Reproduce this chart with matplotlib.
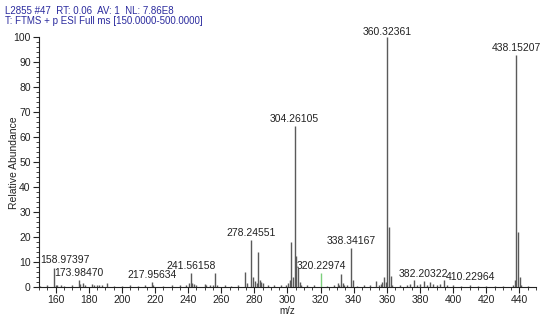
import matplotlib
matplotlib.use("Agg")
import matplotlib.pyplot as plt
from matplotlib.ticker import MultipleLocator

plt.rcParams['font.family'] = ['Liberation Sans', 'DejaVu Sans']

# ---- data ----
header1 = "L2855 #47  RT: 0.06  AV: 1  NL: 7.86E8"
header2 = "T: FTMS + p ESI Full ms [150.0000-500.0000]"

mz = [150.5, 155.0, 158.97397, 160.0, 161.0, 163.0, 165.0, 170.0, 173.98470, 175.0,
      176.5, 178.0, 182.0, 183.0, 185.0, 186.0, 188.0, 191.0, 195.0, 200.0,
      205.0, 210.0, 214.0, 217.95634, 219.0, 225.0, 230.0, 235.0, 239.0, 240.5,
      241.56158, 242.5, 243.5, 245.0, 250.0, 251.0, 253.0, 255.0, 256.3, 257.5,
      262.0, 266.0, 270.0, 274.3, 275.3, 278.24551, 279.25, 280.3, 281.3, 282.3,
      283.3, 284.3, 285.5, 288.0, 292.0, 296.0, 299.0, 300.3, 301.3, 302.3,
      303.3, 304.26105, 305.3, 306.3, 307.3, 308.3, 312.0, 316.0, 324.0, 328.0,
      330.3, 331.3, 332.3, 333.3, 334.3, 336.0, 338.34167, 339.35, 342.0, 346.0,
      350.0, 353.3, 355.0, 356.3, 357.3, 358.3, 359.3, 360.32361, 361.33, 362.33,
      363.3, 368.0, 372.0, 374.0, 376.2, 378.0, 380.0, 382.20322, 384.0, 386.2,
      388.0, 390.0, 392.0, 394.2, 396.0, 400.0, 405.0, 410.22964, 415.0, 420.0,
      425.0, 430.0, 436.0, 437.2, 438.15207, 439.16, 440.16, 441.2, 445.0]
intensity = [0.5, 0.8, 7.8, 1.0, 0.6, 0.6, 0.5, 0.6, 2.8, 1.2,
             1.5, 0.8, 1.3, 1.0, 1.0, 0.8, 0.7, 1.5, 0.5, 0.5,
             0.6, 0.5, 0.6, 2.0, 0.8, 0.5, 0.6, 0.6, 1.0, 1.5,
             5.7, 1.8, 1.2, 0.6, 1.2, 0.8, 0.8, 1.0, 5.5, 0.8,
             0.6, 0.5, 0.6, 6.0, 1.5, 19.0, 4.0, 2.5, 1.5, 14.0,
             3.0, 2.0, 1.5, 1.0, 0.6, 0.6, 1.0, 1.5, 3.0, 18.0,
             4.0, 64.5, 12.5, 7.5, 2.0, 1.0, 0.6, 0.6, 0.5, 0.8,
             1.5, 1.0, 5.2, 1.5, 1.0, 0.6, 15.5, 3.0, 0.5, 0.6,
             0.8, 2.5, 1.0, 1.2, 2.0, 4.0, 2.0, 100.0, 24.0, 4.5,
             1.0, 0.6, 1.0, 1.2, 3.0, 1.0, 1.2, 2.5, 1.0, 2.0,
             1.2, 0.8, 1.2, 3.0, 0.8, 0.6, 0.5, 1.0, 0.5, 0.5,
             0.4, 0.4, 0.6, 3.0, 93.0, 22.0, 4.0, 0.8, 0.4]

green_mz = [320.22974]
green_int = [5.5]

labels = ["158.97397", "173.98470", "217.95634", "241.56158", "278.24551",
          "304.26105", "320.22974", "338.34167", "360.32361", "382.20322",
          "410.22964", "438.15207"]
label_mz = [158.97397, 173.98470, 217.95634, 241.56158, 278.24551,
            304.26105, 320.22974, 338.34167, 360.32361, 382.20322,
            410.22964, 438.15207]
label_int = [7.8, 2.8, 2.0, 5.7, 19.0, 64.5, 5.5, 15.5, 100.0, 2.5, 1.0, 93.0]

# ---- figure ----
fig = plt.figure(figsize=(5.5, 3.15), dpi=100)
ax = fig.add_axes([0.0709, 0.0889, 0.9036, 0.7921])

ax.vlines(mz, 0, intensity, colors='#5a5a5a', linewidth=1.0)
ax.vlines(green_mz, 0, green_int, colors='#7ccf7c', linewidth=1.0)

for lab, x, y in zip(labels, label_mz, label_int):
    dx = 8 if lab == "158.97397" else 0
    dy = 0.5 if lab == "360.32361" else 1.5
    ax.annotate(lab, (x, y), xytext=(dx, dy), textcoords='offset points',
                ha='center', va='bottom', fontsize=7.5, color='#222222',
                annotation_clip=False)

ax.set_xlim(150, 450)
ax.set_ylim(0, 100)
ax.xaxis.set_minor_locator(MultipleLocator(5))
ax.yaxis.set_major_locator(MultipleLocator(10))
ax.yaxis.set_minor_locator(MultipleLocator(2))
ax.set_xticks(range(160, 441, 20))
ax.tick_params(axis='both', which='major', length=4, width=0.8,
               labelsize=7.5, color='#222222', labelcolor='#222222', pad=2)
ax.tick_params(axis='both', which='minor', length=2, width=0.6, color='#222222')
for s in ['top', 'right']:
    ax.spines[s].set_visible(False)
for s in ['left', 'bottom']:
    ax.spines[s].set_linewidth(0.8)
    ax.spines[s].set_color('#222222')

ax.set_xlabel("m/z", fontsize=7, color='#222222')
ax.xaxis.set_label_coords(0.5, -0.075)
ax.set_ylabel("Relative Abundance", fontsize=7.5, color='#222222')
ax.yaxis.set_label_coords(-0.04, 0.5)

fig.text(0.009, 0.966, header1, fontsize=7, color='#2b2b9e', va='center', ha='left')
fig.text(0.009, 0.934, header2, fontsize=7, color='#2b2b9e', va='center', ha='left')

fig.savefig("out.png", dpi=100)
